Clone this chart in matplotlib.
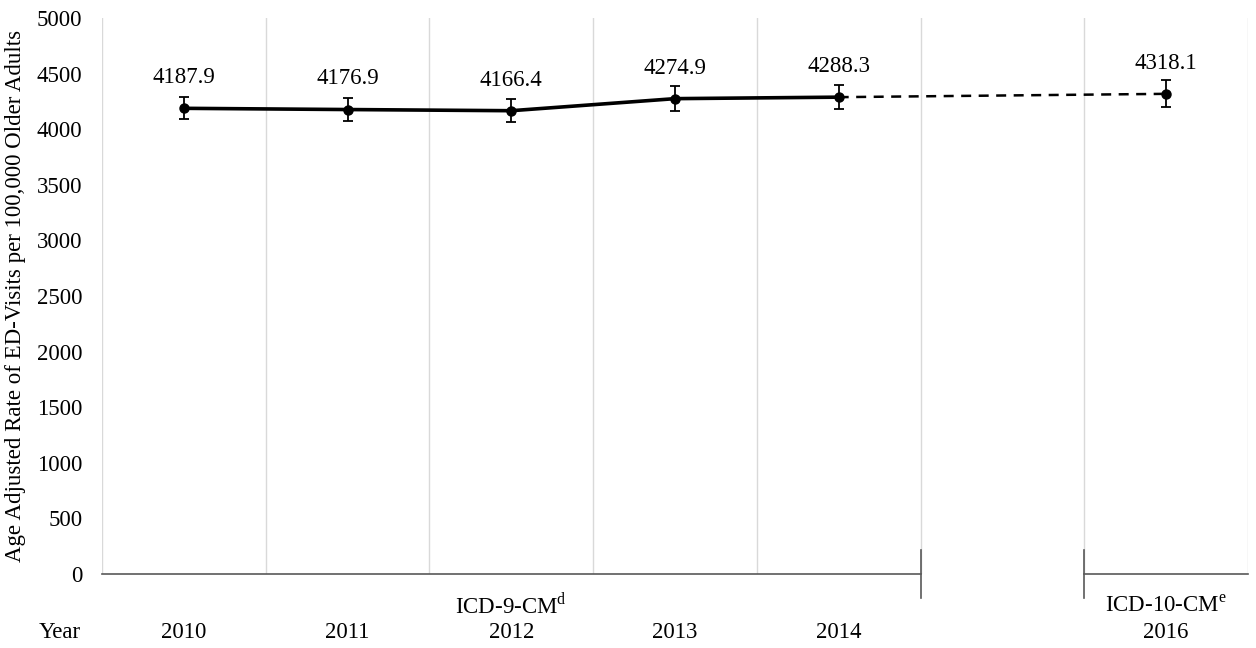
import numpy as np
import matplotlib
matplotlib.use('Agg')
import matplotlib.pyplot as plt
import matplotlib.transforms as mtransforms

plt.rcParams['font.family'] = ['Liberation Serif', 'DejaVu Serif']
plt.rcParams['mathtext.fontset'] = 'custom'
plt.rcParams['mathtext.rm'] = 'Liberation Serif'

# data
years = ['2010', '2011', '2012', '2013', '2014', '', '2016']
icd9_pos = [0, 1, 2, 3, 4]
icd9_rate = [4187.9, 4176.9, 4166.4, 4274.9, 4288.3]
icd9_err = [100, 100, 105, 110, 105]
icd10_pos = [6]
icd10_rate = [4318.1]
icd10_err = [120]

FS = 16.5

fig = plt.figure(figsize=(12.56, 6.48), dpi=100)
ax = fig.add_axes([0.0812, 0.1142, 0.9124, 0.858])

ax.set_xlim(-0.5, 6.5)
ax.set_ylim(0, 5000)

# category separators
for xb in np.arange(-0.5, 7, 1):
    ax.axvline(xb, color='#d9d9d9', lw=1, zorder=0)

for s in ax.spines.values():
    s.set_visible(False)

ax.set_yticks(np.arange(0, 5001, 500))
ax.tick_params(axis='y', length=0, labelsize=FS, pad=14)
ax.set_xticks([])
ax.set_ylabel('Age Adjusted Rate of ED-Visits per 100,000 Older Adults', fontsize=FS, labelpad=8)

# broken baseline for the two coding periods
ax.plot([-0.5, 4.5], [0, 0], color='#595959', lw=1.2, clip_on=False)
ax.plot([5.5, 6.5], [0, 0], color='#595959', lw=1.2, clip_on=False)
for xb in [4.5, 5.5]:
    ax.plot([xb, xb], [-215, 215], color='#595959', lw=1.2, clip_on=False)

# series
ax.plot([icd9_pos[-1], icd10_pos[0]], [icd9_rate[-1], icd10_rate[0]],
        color='black', lw=1.8, ls=(0, (4, 3)), zorder=2)
ax.errorbar(icd9_pos, icd9_rate, yerr=icd9_err, color='black', lw=2.6,
            marker='o', ms=6.5, elinewidth=1.3, capsize=3.5, capthick=1.3, zorder=3)
ax.errorbar(icd10_pos, icd10_rate, yerr=icd10_err, color='black', lw=0,
            marker='o', ms=6.5, elinewidth=1.3, capsize=3.5, capthick=1.3, zorder=3)

for x, v in zip(icd9_pos + icd10_pos, icd9_rate + icd10_rate):
    ax.annotate(f'{v:.1f}', (x, v), xytext=(0, 22), textcoords='offset points',
                ha='center', va='center', fontsize=FS)

# x labels
trans = mtransforms.blended_transform_factory(ax.transData, ax.transAxes)
for i, yr in enumerate(years):
    if yr:
        ax.text(i, -0.106, yr, transform=trans, ha='center', va='center', fontsize=FS)
ax.text(2, -0.057, r'ICD-9-CM$^{\mathrm{d}}$', transform=trans, ha='center', va='center', fontsize=FS)
ax.text(6, -0.057, r'ICD-10-CM$^{\mathrm{e}}$', transform=trans, ha='center', va='center', fontsize=FS)
fig.text(60 / 1256, 1 - 633 / 648, 'Year', ha='center', va='center', fontsize=FS)

fig.savefig('out.png', dpi=100)
